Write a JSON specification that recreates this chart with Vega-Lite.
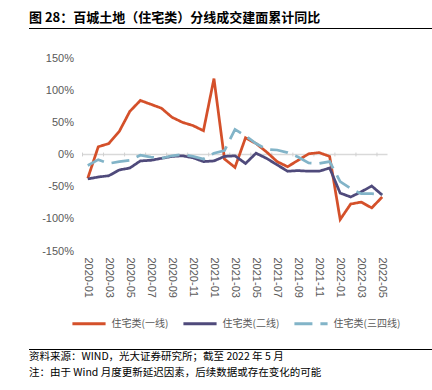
{
  "$schema": "https://vega.github.io/schema/vega-lite/v6.json",
  "background": "white",
  "padding": {"left": 27, "top": 12, "right": 0, "bottom": 0},
  "config": {"view": {"stroke": null}, "font": "Noto Sans CJK SC"},
  "spacing": 23,
  "center": true,
  "vconcat": [
    {
      "width": 457,
      "height": 1,
      "data": {"values": []},
      "mark": {"type": "rule"},
      "encoding": {},
      "view": {"fill": "#000000", "stroke": null},
      "title": {"text": "图 28：百城土地（住宅类）分线成交建面累计同比", "anchor": "start", "font": "Noto Sans CJK SC", "fontSize": 13, "fontWeight": "bold", "color": "#000000", "offset": 3}
    },
    {
      "spacing": 19,
      "center": true,
      "resolve": {"legend": {"color": "independent", "strokeDash": "independent"}},
      "vconcat": [
        {
          "width": 305,
          "height": 193,
          "data": {"values": [
            {"month": "2020-01", "住宅类(一线)": -37, "住宅类(二线)": -38, "住宅类(三四线)": -17},
            {"month": "2020-02", "住宅类(一线)": 12, "住宅类(二线)": -35, "住宅类(三四线)": -8},
            {"month": "2020-03", "住宅类(一线)": 17, "住宅类(二线)": -33, "住宅类(三四线)": -14},
            {"month": "2020-04", "住宅类(一线)": 36, "住宅类(二线)": -24, "住宅类(三四线)": -11},
            {"month": "2020-05", "住宅类(一线)": 67, "住宅类(二线)": -21, "住宅类(三四线)": -9},
            {"month": "2020-06", "住宅类(一线)": 84, "住宅类(二线)": -10, "住宅类(三四线)": -1},
            {"month": "2020-07", "住宅类(一线)": 78, "住宅类(二线)": -9, "住宅类(三四线)": -4},
            {"month": "2020-08", "住宅类(一线)": 72, "住宅类(二线)": -6, "住宅类(三四线)": -6},
            {"month": "2020-09", "住宅类(一线)": 58, "住宅类(二线)": -3, "住宅类(三四线)": -2},
            {"month": "2020-10", "住宅类(一线)": 50, "住宅类(二线)": -2, "住宅类(三四线)": 0},
            {"month": "2020-11", "住宅类(一线)": 45, "住宅类(二线)": -5, "住宅类(三四线)": -3},
            {"month": "2020-12", "住宅类(一线)": 37, "住宅类(二线)": -11, "住宅类(三四线)": -7},
            {"month": "2021-01", "住宅类(一线)": 118, "住宅类(二线)": -10, "住宅类(三四线)": 2},
            {"month": "2021-02", "住宅类(一线)": -7, "住宅类(二线)": -3, "住宅类(三四线)": 6},
            {"month": "2021-03", "住宅类(一线)": -20, "住宅类(二线)": -2, "住宅类(三四线)": 39},
            {"month": "2021-04", "住宅类(一线)": 26, "住宅类(二线)": -14, "住宅类(三四线)": 29},
            {"month": "2021-05", "住宅类(一线)": 17, "住宅类(二线)": 2, "住宅类(三四线)": 17},
            {"month": "2021-06", "住宅类(一线)": 4, "住宅类(二线)": -6, "住宅类(三四线)": 8},
            {"month": "2021-07", "住宅类(一线)": -11, "住宅类(二线)": -16, "住宅类(三四线)": 7},
            {"month": "2021-08", "住宅类(一线)": -19, "住宅类(二线)": -26, "住宅类(三四线)": 3},
            {"month": "2021-09", "住宅类(一线)": -9, "住宅类(二线)": -25, "住宅类(三四线)": -4},
            {"month": "2021-10", "住宅类(一线)": 1, "住宅类(二线)": -26, "住宅类(三四线)": -13},
            {"month": "2021-11", "住宅类(一线)": 3, "住宅类(二线)": -26, "住宅类(三四线)": -14},
            {"month": "2021-12", "住宅类(一线)": -3, "住宅类(二线)": -21, "住宅类(三四线)": -11},
            {"month": "2022-01", "住宅类(一线)": -101, "住宅类(二线)": -60, "住宅类(三四线)": -42},
            {"month": "2022-02", "住宅类(一线)": -77, "住宅类(二线)": -66, "住宅类(三四线)": -53},
            {"month": "2022-03", "住宅类(一线)": -74, "住宅类(二线)": -58, "住宅类(三四线)": -61},
            {"month": "2022-04", "住宅类(一线)": -83, "住宅类(二线)": -49, "住宅类(三四线)": -61},
            {"month": "2022-05", "住宅类(一线)": -66, "住宅类(二线)": -63, "住宅类(三四线)": -62}
          ]},
          "transform": [{"fold": ["住宅类(一线)", "住宅类(二线)", "住宅类(三四线)"], "as": ["series", "value"]}],
          "resolve": {"axis": {"y": "independent"}},
          "layer": [
            {
              "transform": [{"filter": "datum.series === '住宅类(一线)' && datum.month === '2020-01'"}],
              "mark": {"type": "rule", "color": "#d9d9d9", "strokeWidth": 1.5},
              "encoding": {
                "y": {"datum": 0, "type": "quantitative",
                  "axis": {"orient": "right", "title": null, "labels": false, "domain": false, "ticks": false, "grid": false, "minExtent": 45, "maxExtent": 45}}
              }
            },
            {
              "transform": [{"filter": "datum.series === '住宅类(一线)' && toNumber(substring(datum.month, 5, 7)) % 2 === 1"}],
              "mark": {"type": "rule", "color": "#d0d0d0", "strokeWidth": 1},
              "encoding": {
                "x": {"field": "month", "type": "ordinal", "bandPosition": 0,
                  "scale": {"type": "band", "paddingInner": 0, "paddingOuter": 0},
                  "axis": {
                    "orient": "bottom", "title": null, "domain": false, "ticks": false,
                    "labelAngle": 90, "labelPadding": 6, "labelOverlap": false,
                    "values": ["2020-01","2020-03","2020-05","2020-07","2020-09","2020-11","2021-01","2021-03","2021-05","2021-07","2021-09","2021-11","2022-01","2022-03","2022-05"],
                    "labelFont": "Liberation Sans", "labelFontSize": 11, "labelColor": "#595959"
                  }},
                "y": {"datum": 3, "type": "quantitative", "axis": null},
                "y2": {"datum": -3}
              }
            },
            {
              "mark": {"type": "line", "strokeWidth": 2.75},
              "encoding": {
                "x": {"field": "month", "type": "ordinal", "bandPosition": 0.5},
                "y": {"field": "value", "type": "quantitative",
                  "scale": {"domain": [-150, 150], "nice": false},
                  "axis": {
                    "orient": "left", "title": null, "domain": false, "ticks": false, "grid": false,
                    "values": [-150, -100, -50, 0, 50, 100, 150], "tickCount": 7, "labelOverlap": false,
                    "labelExpr": "datum.value + '%'", "minExtent": 55, "maxExtent": 55,
                    "labelPadding": 9, "labelFont": "Liberation Sans", "labelFontSize": 11, "labelColor": "#595959"
                  }},
                "color": {
                  "field": "series", "type": "nominal",
                  "scale": {"domain": ["住宅类(一线)", "住宅类(二线)", "住宅类(三四线)"], "range": ["#D4502A", "#4F4A7B", "#82B4C8"]},
                  "legend": {
                    "orient": "none", "legendX": -12, "legendY": 247, "direction": "horizontal", "title": null,
                    "symbolType": "stroke", "symbolSize": 1100, "symbolStrokeWidth": 3,
                    "labelFont": "Noto Sans CJK SC", "labelFontSize": 10, "labelColor": "#595959",
                    "labelOffset": 4, "columnPadding": 8
                  }
                },
                "strokeDash": {
                  "field": "series", "type": "nominal",
                  "scale": {"domain": ["住宅类(一线)", "住宅类(二线)", "住宅类(三四线)"], "range": [[1, 0], [1, 0], [18, 8]]},
                  "legend": {
                    "orient": "none", "legendX": -12, "legendY": 247, "direction": "horizontal", "title": null,
                    "symbolType": "stroke", "symbolSize": 1100, "symbolStrokeWidth": 3,
                    "labelFont": "Noto Sans CJK SC", "labelFontSize": 10, "labelColor": "#595959",
                    "labelOffset": 4, "columnPadding": 8
                  }
                }
              }
            }
          ]
        },
        {
          "width": 457,
          "height": 1,
          "data": {"values": []},
          "mark": {"type": "rule"},
          "encoding": {},
          "view": {"fill": "#000000", "stroke": null},
          "title": {"text": ["资料来源：WIND，光大证券研究所；截至 2022 年 5 月", "注：由于 Wind 月度更新延迟因素，后续数据或存在变化的可能"], "orient": "bottom", "anchor": "start", "font": "Noto Sans CJK SC", "fontSize": 10.5, "fontWeight": "normal", "color": "#000000", "lineHeight": 16, "offset": 2}
        }
      ]
    }
  ]
}
